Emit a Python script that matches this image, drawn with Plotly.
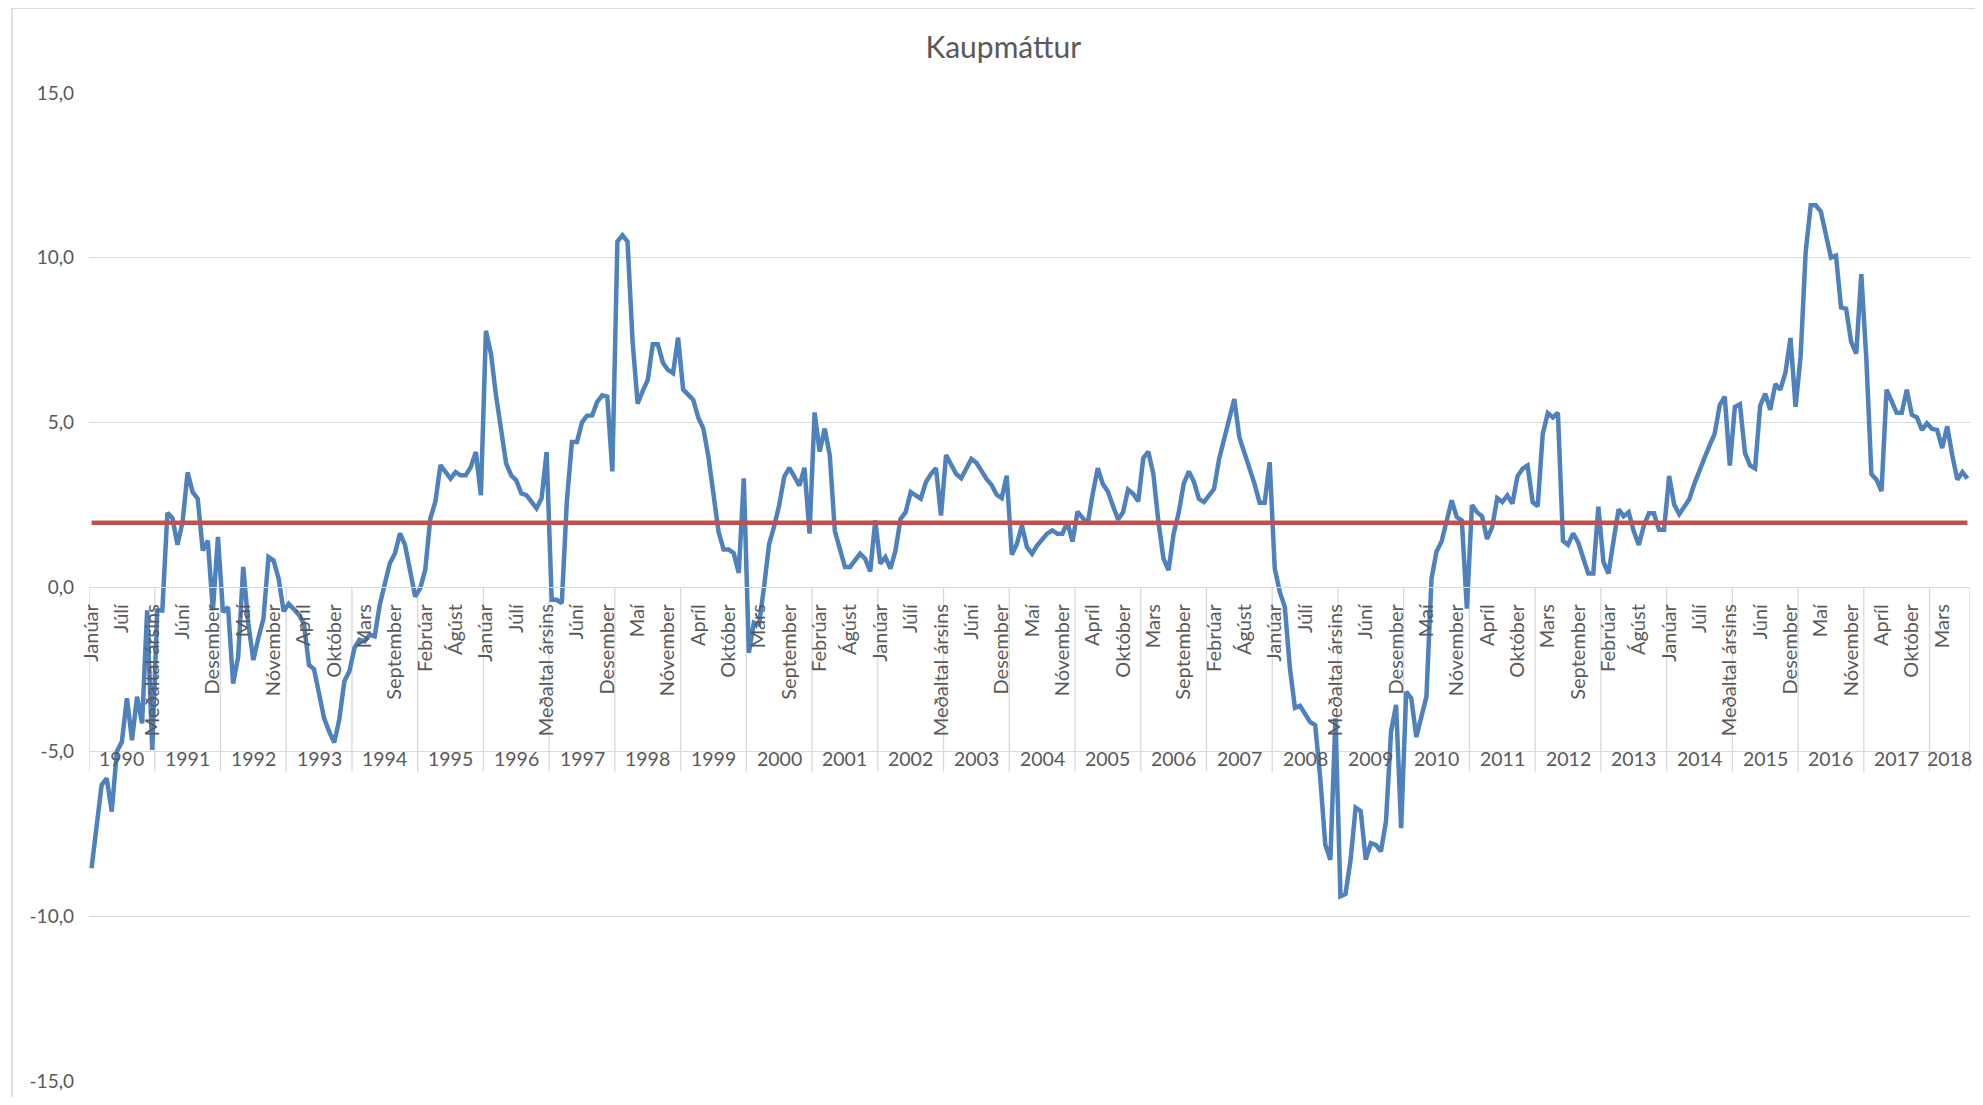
import plotly.graph_objects as go

title = "Kaupmáttur"
years = list(range(1990, 2019))
manudir = ["Janúar", "Febrúar", "Mars", "Apríl", "Maí", "Júní", "Júlí", "Ágúst",
           "September", "Október", "Nóvember", "Desember", "Meðaltal ársins"]
n_last_year = 8  # 2018 only runs Janúar - Ágúst

# one row per year: 12 months + annual average (Meðaltal ársins)
kaupmattur = [
    -8.54, -7.27, -6.01, -5.81, -6.82, -5.00, -4.70, -3.38, -4.65, -3.33, -4.14, -0.71, -4.95,  # 1990
    -0.71, -0.71, 2.25, 2.09, 1.28, 1.97, 3.48, 2.88, 2.68, 1.11, 1.41, -0.71, 1.52,  # 1991
    -0.76, -0.61, -2.93, -2.12, 0.61, -1.11, -2.22, -1.55, -0.96, 0.91, 0.81, 0.25, -0.74,  # 1992
    -0.51, -0.68, -0.84, -1.11, -2.37, -2.49, -3.26, -3.99, -4.39, -4.72, -4.02, -2.86, -2.56,  # 1993
    -1.85, -1.60, -1.65, -1.45, -1.50, -0.54, 0.17, 0.72, 1.02, 1.63, 1.28, 0.42, -0.29,  # 1994
    -0.04, 0.52, 2.08, 2.59, 3.70, 3.49, 3.29, 3.49, 3.39, 3.39, 3.64, 4.10, 2.79,  # 1995
    7.78, 7.08, 5.81, 4.65, 3.75, 3.39, 3.24, 2.84, 2.79, 2.59, 2.39, 2.69, 4.10,  # 1996
    -0.39, -0.39, -0.49, 2.59, 4.40, 4.40, 5.00, 5.20, 5.21, 5.62, 5.82, 5.78, 3.51,  # 1997
    10.49, 10.68, 10.49, 7.46, 5.57, 5.95, 6.29, 7.37, 7.37, 6.81, 6.59, 6.49, 7.57,  # 1998
    6.00, 5.84, 5.68, 5.14, 4.81, 3.95, 2.92, 1.68, 1.14, 1.14, 1.03, 0.43, 3.30,  # 1999
    -2.00, -1.08, -1.14, 0.00, 1.30, 1.84, 2.49, 3.35, 3.62, 3.35, 3.08, 3.62, 1.62,  # 2000
    5.30, 4.11, 4.81, 4.00, 1.70, 1.17, 0.61, 0.61, 0.81, 1.01, 0.86, 0.47, 2.02,  # 2001
    0.71, 0.91, 0.56, 1.11, 2.07, 2.27, 2.88, 2.78, 2.68, 3.18, 3.43, 3.61, 2.17,  # 2002
    4.01, 3.74, 3.43, 3.30, 3.61, 3.89, 3.77, 3.51, 3.28, 3.10, 2.80, 2.70, 3.38,  # 2003
    0.98, 1.31, 1.87, 1.21, 1.01, 1.26, 1.44, 1.62, 1.72, 1.62, 1.62, 1.97, 1.38,  # 2004
    2.29, 2.10, 1.92, 2.83, 3.61, 3.13, 2.90, 2.47, 2.05, 2.27, 2.96, 2.83, 2.60,  # 2005
    3.91, 4.11, 3.43, 1.97, 0.86, 0.51, 1.62, 2.25, 3.13, 3.51, 3.20, 2.68, 2.58,  # 2006
    2.78, 2.98, 3.89, 4.52, 5.08, 5.71, 4.55, 4.07, 3.64, 3.13, 2.56, 2.56, 3.79,  # 2007
    0.56, -0.15, -0.61, -2.47, -3.67, -3.61, -3.86, -4.10, -4.19, -5.80, -7.83, -8.28, -3.99,  # 2008
    -9.39, -9.32, -8.28, -6.70, -6.80, -8.28, -7.78, -7.83, -8.03, -7.12, -4.39, -3.58, -7.32,  # 2009
    -3.18, -3.38, -4.55, -3.99, -3.33, 0.25, 1.08, 1.38, 2.07, 2.63, 2.12, 2.02, -0.66,  # 2010
    2.49, 2.27, 2.15, 1.46, 1.82, 2.70, 2.58, 2.78, 2.53, 3.36, 3.59, 3.69, 2.58,  # 2011
    2.45, 4.65, 5.28, 5.15, 5.29, 1.40, 1.28, 1.63, 1.36, 0.87, 0.41, 0.41, 2.44,  # 2012
    0.76, 0.41, 1.40, 2.36, 2.15, 2.27, 1.69, 1.28, 1.86, 2.24, 2.24, 1.74, 1.74,  # 2013
    3.37, 2.50, 2.21, 2.44, 2.67, 3.14, 3.49, 3.92, 4.30, 4.65, 5.52, 5.78, 3.69,  # 2014
    5.47, 5.55, 4.07, 3.69, 3.60, 5.50, 5.87, 5.38, 6.16, 5.99, 6.51, 7.56, 5.47,  # 2015
    7.00, 10.17, 11.59, 11.59, 11.40, 10.64, 10.00, 10.06, 8.49, 8.45, 7.44, 7.09, 9.50,  # 2016
    6.92, 3.43, 3.26, 2.91, 5.99, 5.62, 5.29, 5.29, 5.99, 5.23, 5.15, 4.77, 4.97,  # 2017
    4.80, 4.77, 4.22, 4.88, 3.99, 3.26, 3.49, 3.29,  # 2018
]
vidmid = 1.95  # red reference line
y_ticks = [-15, -10, -5, 0, 5, 10, 15]

GRAY = "#D9D9D9"
TEXT = "#595959"
FONT = "Lato, 'Open Sans', sans-serif"

# category list (year, month) in the same order as the values
categories = []
for yr in years:
    n = 13 if yr != years[-1] else n_last_year
    for m in manudir[:n]:
        categories.append((yr, m))

x = list(range(len(kaupmattur)))
tickvals = x[::6]
ticktext = [categories[i][1] for i in tickvals]

fig = go.Figure()
fig.add_trace(go.Scatter(x=x, y=kaupmattur, mode="lines",
                         line=dict(color="#4F81BD", width=4.5), showlegend=False))
fig.add_trace(go.Scatter(x=x, y=[vidmid] * len(x), mode="lines",
                         line=dict(color="#C0504D", width=4.5), showlegend=False))

# year separators and year labels under the month labels
shapes = []
annotations = []
start = 0
for yr in years:
    n = sum(1 for c in categories if c[0] == yr)
    shapes.append(dict(type="line", xref="x", yref="y", x0=start - 0.5, x1=start - 0.5,
                       y0=0, y1=-5.6, line=dict(color=GRAY, width=1.3), layer="below"))
    annotations.append(dict(x=start + (n - 1) / 2, y=-5.2, xref="x", yref="y", text=str(yr),
                            showarrow=False, font=dict(family=FONT, size=19.5, color=TEXT)))
    start += n
shapes.append(dict(type="line", xref="x", yref="y", x0=start - 0.5, x1=start - 0.5,
                   y0=0, y1=-5.6, line=dict(color=GRAY, width=1.3), layer="below"))
# chart border
shapes.append(dict(type="rect", xref="paper", yref="paper", x0=-0.041, x1=1.05,
                   y0=-0.05, y1=1.0858, line=dict(color=GRAY, width=1.5)))

fig.update_layout(
    width=1967,
    height=1089,
    margin=dict(l=81, r=5, t=85, b=11),
    paper_bgcolor="white",
    plot_bgcolor="white",
    title=dict(text=title, x=0.506, xref="container", y=0.964, yref="container",
               xanchor="center", yanchor="middle",
               font=dict(family=FONT, size=30, color=TEXT)),
    xaxis=dict(
        range=[-0.5, len(x) - 0.5],
        anchor="free",
        position=0.5,
        showgrid=False,
        zeroline=False,
        showline=True,
        linecolor=GRAY,
        linewidth=1.3,
        tickmode="array",
        tickvals=tickvals,
        ticktext=ticktext,
        tickangle=-90,
        ticks="",
        ticklabelstandoff=8,
        tickfont=dict(family=FONT, size=20, color=TEXT),
    ),
    yaxis=dict(
        range=[-15, 15],
        showgrid=True,
        gridcolor=GRAY,
        gridwidth=1.3,
        zeroline=False,
        showline=False,
        tickmode="array",
        tickvals=y_ticks,
        ticktext=[f"{v:.1f}".replace(".", ",") for v in y_ticks],
        ticks="",
        ticklabelstandoff=14,
        tickfont=dict(family=FONT, size=19, color=TEXT),
    ),
    shapes=shapes,
    annotations=annotations,
)

fig.write_html("out.html")
